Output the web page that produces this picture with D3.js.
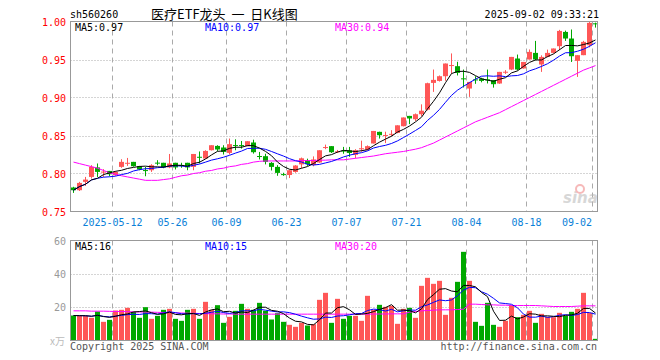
<!DOCTYPE html>
<html><head><meta charset="utf-8">
<script src="https://cdn.jsdelivr.net/npm/d3@7/dist/d3.min.js"></script>
<style>body{margin:0;background:#fff}svg{display:block}</style>
</head><body><svg id="c" width="660" height="360"></svg>
<script>
const dates = ["04-28","04-29","04-30","05-06","05-07","05-08","05-09","05-12","05-13","05-14","05-15","05-16","05-19","05-20","05-21","05-22","05-23","05-26","05-27","05-28","05-29","05-30","06-03","06-04","06-05","06-06","06-09","06-10","06-11","06-12","06-13","06-16","06-17","06-18","06-19","06-20","06-23","06-24","06-25","06-26","06-27","06-30","07-01","07-02","07-03","07-04","07-07","07-08","07-09","07-10","07-11","07-14","07-15","07-16","07-17","07-18","07-21","07-22","07-23","07-24","07-25","07-28","07-29","07-30","07-31","08-01","08-04","08-05","08-06","08-07","08-08","08-11","08-12","08-13","08-14","08-15","08-18","08-19","08-20","08-21","08-22","08-25","08-26","08-27","08-28","08-29","09-01","09-02"];
const openP = [0.7816,0.778,0.789,0.7955,0.808,0.802,0.8034,0.7978,0.8087,0.8135,0.8153,0.8096,0.8045,0.8043,0.8143,0.8141,0.808,0.8141,0.8112,0.8141,0.8087,0.822,0.8197,0.8306,0.8363,0.8342,0.8271,0.8374,0.8374,0.8359,0.8408,0.823,0.8228,0.814,0.8087,0.7992,0.798,0.802,0.812,0.8175,0.8112,0.8145,0.8342,0.836,0.8288,0.8302,0.8305,0.8245,0.8328,0.8313,0.8395,0.8548,0.8502,0.8518,0.8534,0.8622,0.8758,0.8714,0.878,0.884,0.9192,0.9218,0.928,0.9423,0.9412,0.9252,0.9118,0.9238,0.925,0.9239,0.9228,0.9184,0.9335,0.9368,0.9513,0.9382,0.95,0.9587,0.9434,0.9534,0.9587,0.9675,0.9863,0.9776,0.9482,0.9557,0.9688,0.9976];
const highP = [0.7825,0.789,0.7955,0.811,0.8132,0.8057,0.8034,0.803,0.8188,0.8205,0.8153,0.81,0.8087,0.8122,0.8175,0.8141,0.8257,0.8141,0.8141,0.8141,0.8257,0.829,0.8306,0.8372,0.8372,0.8372,0.846,0.845,0.8428,0.8425,0.8445,0.8284,0.826,0.815,0.811,0.801,0.805,0.811,0.821,0.8195,0.8225,0.8306,0.838,0.836,0.831,0.835,0.835,0.832,0.8432,0.837,0.856,0.855,0.855,0.857,0.8634,0.8737,0.8758,0.879,0.891,0.9195,0.9368,0.929,0.9447,0.958,0.947,0.9368,0.9205,0.928,0.926,0.9368,0.9228,0.9337,0.936,0.9534,0.9565,0.9468,0.9632,0.9745,0.9555,0.963,0.9645,0.989,0.988,0.9895,0.9557,0.9745,0.9995,0.9985];
const lowP = [0.7745,0.777,0.7837,0.7934,0.7955,0.7955,0.7964,0.797,0.8075,0.81,0.809,0.8043,0.7964,0.8021,0.8108,0.807,0.807,0.8053,0.8075,0.8043,0.8043,0.8132,0.8193,0.8303,0.8293,0.825,0.825,0.8306,0.8328,0.8359,0.8262,0.8185,0.812,0.804,0.797,0.797,0.794,0.801,0.807,0.81,0.8095,0.814,0.832,0.827,0.827,0.826,0.822,0.82,0.8287,0.8305,0.8395,0.846,0.84,0.849,0.853,0.862,0.865,0.869,0.8756,0.883,0.9074,0.921,0.922,0.9316,0.929,0.9132,0.9008,0.918,0.92,0.9185,0.913,0.918,0.931,0.936,0.9355,0.938,0.95,0.949,0.9337,0.953,0.958,0.9625,0.9745,0.9468,0.9271,0.9557,0.966,0.992];
const closeP = [0.778,0.7876,0.792,0.8087,0.8021,0.8025,0.799,0.8021,0.8153,0.8141,0.8096,0.8053,0.8041,0.8109,0.8139,0.808,0.8132,0.808,0.8108,0.808,0.8257,0.8216,0.8297,0.8372,0.8316,0.8284,0.8386,0.837,0.837,0.8425,0.828,0.8226,0.8153,0.8087,0.8008,0.7988,0.8043,0.8105,0.82,0.8122,0.8185,0.8306,0.8348,0.828,0.8292,0.8298,0.827,0.8306,0.8332,0.836,0.856,0.8504,0.8506,0.8522,0.8634,0.8737,0.8724,0.878,0.8826,0.9188,0.9232,0.928,0.9447,0.9427,0.9324,0.9248,0.9205,0.9235,0.9218,0.9235,0.9175,0.9337,0.9339,0.9534,0.9368,0.9468,0.96,0.95,0.9534,0.9587,0.9645,0.9876,0.9776,0.9543,0.9557,0.9732,0.9982,0.9972];
const volume = [15,14.8,14.8,13.6,17.4,11.2,12.4,18,18.4,19.6,17.2,13.6,20,13,14.8,18.4,19,13,11.8,18.4,19,13,23.2,18.4,21.2,10.6,14.2,17.8,22,19,18.4,22.6,17.8,12.6,16.4,11.2,9.4,8.2,10.6,9,9.8,24.4,28.6,10.6,25,13,14.8,14.8,11.8,26.8,18.4,21.4,20.2,20.8,10,19,19.6,13.6,32.8,37.6,34,35.8,15.4,25.6,35.2,53.2,35.8,11.2,8.8,22.6,9.4,8.2,11.8,21.2,14,15.4,17.8,10.6,16,14.2,14,16.6,14.8,17.2,19,28.6,16.6,1];
const ma30Price = [0.815,0.813,0.811,0.809,0.807,0.804,0.801,0.799,0.797,0.7955,0.794,0.7925,0.791,0.791,0.791,0.792,0.793,0.795,0.797,0.798,0.8,0.801,0.803,0.804,0.806,0.807,0.809,0.81,0.812,0.813,0.815,0.816,0.8165,0.8165,0.8165,0.8165,0.8165,0.8165,0.817,0.817,0.817,0.8175,0.8175,0.818,0.818,0.818,0.819,0.82,0.821,0.822,0.823,0.8245,0.826,0.827,0.828,0.829,0.8305,0.832,0.834,0.837,0.84,0.844,0.848,0.852,0.856,0.86,0.864,0.868,0.871,0.874,0.877,0.88,0.884,0.888,0.892,0.896,0.9,0.904,0.908,0.912,0.916,0.92,0.924,0.928,0.932,0.936,0.939,0.942];
const ma30Vol = [17.8,17.8,17.8,17.6,17.6,17.6,17.5,17.4,17.4,17.3,17.2,17.1,17,17,16.9,16.8,16.8,16.6,16.5,16.4,16.3,16.2,16.1,16,16,15.9,15.9,15.8,15.8,15.8,15.8,15.8,15.8,15.8,15.8,15.8,15.8,15.8,15.8,15.8,15.8,15.8,15.8,15.8,15.8,15.8,15.8,15.8,15.8,15.8,15.9,15.9,15.9,16,16,16,17,17.4,17.8,18,18.2,18.4,18.4,18.4,18.6,18.8,21.8,21.8,21.6,21.4,21.4,21.2,21.2,21,21,21,21,21,20.8,20.6,20.4,20.4,20.4,20.4,20.6,20.8,20.8,20.8];
const priceTicks = [1.00,0.95,0.90,0.85,0.80,0.75];
const volTicks = [60,40,20];
const dateTicks = ["05-12","05-26","06-09","06-23","07-07","07-21","08-04","08-18","09-02"];
const dateTickLabels = ["2025-05-12","05-26","06-09","06-23","07-07","07-21","08-04","08-18","09-02"];
const priceLegend = ["MA5:0.97","MA10:0.97","MA30:0.94"];
const volLegend = ["MA5:16","MA10:15","MA30:20"];

const RED = "#ff5757", GREEN = "#00a800";
const svg = d3.select("#c");
const mono = "'DejaVu Sans Mono', monospace";
const N = dates.length;
const x = d3.scaleBand().domain(d3.range(N)).range([70, 598]).padding(0);
const y = d3.scaleLinear().domain([0.75, 1.0]).range([211.5, 21.5]);
const yv = d3.scaleLinear().domain([0, 60]).range([340.5, 240.5]);
const L = 70.5, R = 597.5;

function movingAvg(arr, n) {
  return arr.map((_, i) => d3.mean(arr.slice(Math.max(0, i - n + 1), i + 1)));
}
const ma5 = movingAvg(closeP, 5), ma10 = movingAvg(closeP, 10);
const vma5 = movingAvg(volume, 5), vma10 = movingAvg(volume, 10);

// header
svg.append("text").attr("x", 70).attr("y", 18).attr("font-family", mono).attr("font-size", 10).attr("fill", "#000").text("sh560260");
svg.append("text").attr("x", 151).attr("y", 19).attr("font-family", "'Noto Sans CJK SC', sans-serif").attr("font-size", 13).attr("fill", "#000").attr("xml:space", "preserve").style("white-space", "pre").text("医疗ETF龙头  一  日K线图");
svg.append("text").attr("x", 599).attr("y", 18).attr("text-anchor", "end").attr("font-family", mono).attr("font-size", 10).attr("fill", "#000").text("2025-09-02 09:33:21");

// grids main
const gMain = svg.append("g");
priceTicks.filter(t => t > 0.76 && t < 0.99).forEach(t => {
  gMain.append("line").attr("x1", L).attr("x2", R).attr("y1", Math.round(y(t)) + 0.5).attr("y2", Math.round(y(t)) + 0.5)
    .attr("stroke", "#aaa").attr("stroke-dasharray", "1,2");
});
const dateIdx = dateTicks.map(d => dates.indexOf(d));
dateIdx.forEach(i => {
  const xx = Math.round(x(i)) + 0.5;
  gMain.append("line").attr("x1", xx).attr("x2", xx).attr("y1", 21.5).attr("y2", 211.5).attr("stroke", "#aaa").attr("stroke-dasharray", "5,4");
  gMain.append("line").attr("x1", xx).attr("x2", xx).attr("y1", 240.5).attr("y2", 340.5).attr("stroke", "#aaa").attr("stroke-dasharray", "5,4");
});
volTicks.filter(t => t < 60).forEach(t => {
  gMain.append("line").attr("x1", L).attr("x2", R).attr("y1", Math.round(yv(t)) + 0.5).attr("y2", Math.round(yv(t)) + 0.5)
    .attr("stroke", "#aaa").attr("stroke-dasharray", "1,2");
});

// watermark
const wm = svg.append("g").attr("opacity", 0.55);
wm.append("text").attr("x", 563).attr("y", 203).attr("font-family", "'DejaVu Sans', sans-serif").attr("font-style", "italic").attr("font-weight", "bold").attr("font-size", 15).attr("fill", "#b8b8b8").text("sina");
wm.append("circle").attr("cx", 580).attr("cy", 189).attr("r", 4).attr("fill", "none").attr("stroke", "#f08080").attr("stroke-width", 2);

// price labels
priceTicks.forEach(t => {
  svg.append("text").attr("x", 66).attr("y", y(t) + 4).attr("text-anchor", "end").attr("font-family", mono).attr("font-size", 10).attr("fill", "#f00").text(t.toFixed(2));
});
// date labels
dateIdx.forEach((i, k) => {
  const xx = Math.round(x(i)) + 0.5;
  const last = k === dateIdx.length - 1;
  svg.append("text").attr("x", last ? 592 : xx).attr("y", 226).attr("text-anchor", last ? "end" : "middle")
    .attr("font-family", mono).attr("font-size", 10).attr("fill", "#0a7fd8").text(dateTickLabels[k]);
});
// vol labels
volTicks.forEach(t => {
  svg.append("text").attr("x", 66).attr("y", yv(t) + 4).attr("text-anchor", "end").attr("font-family", mono).attr("font-size", 10).attr("fill", "#999").text(t);
});
svg.append("text").attr("x", 65).attr("y", 345).attr("text-anchor", "end").attr("font-family", "'Noto Sans CJK SC', sans-serif").attr("font-size", 10).attr("fill", "#bbb").text("x万");

// candles
const gC = svg.append("g");
d3.range(N).forEach(i => {
  const up = closeP[i] >= openP[i];
  const col = up ? RED : GREEN;
  const x0 = Math.round(x(i));
  gC.append("rect").attr("x", x0 + 3).attr("width", 1).attr("y", y(highP[i])).attr("height", Math.max(1, y(lowP[i]) - y(highP[i]))).attr("fill", col);
  const top = y(Math.max(openP[i], closeP[i])), bot = y(Math.min(openP[i], closeP[i]));
  gC.append("rect").attr("x", x0 + 1).attr("width", 5).attr("y", top).attr("height", Math.max(1, bot - top)).attr("fill", col);
  gC.append("rect").attr("x", x0 + 1).attr("width", 5).attr("y", yv(volume[i])).attr("height", yv(0) - yv(volume[i])).attr("fill", col);
});

// MA lines
const lineP = d3.line().x((d, i) => x(i) + 3.5).y(d => y(d));
const lineV = d3.line().x((d, i) => x(i) + 3.5).y(d => yv(d));
[[ma30Price, "#f0f"], [ma10, "#00f"], [ma5, "#000"]].forEach(([arr, c]) => {
  svg.append("path").attr("d", lineP(arr)).attr("fill", "none").attr("stroke", c).attr("stroke-width", 1);
});
[[ma30Vol, "#f0f"], [vma10, "#00f"], [vma5, "#000"]].forEach(([arr, c]) => {
  svg.append("path").attr("d", lineV(arr)).attr("fill", "none").attr("stroke", c).attr("stroke-width", 1);
});

// borders
svg.append("rect").attr("x", L).attr("y", 21.5).attr("width", R - L).attr("height", 190).attr("fill", "none").attr("stroke", "#999");
svg.append("rect").attr("x", L).attr("y", 240.5).attr("width", R - L).attr("height", 100).attr("fill", "none").attr("stroke", "#999");

// legends
const legCol = ["#000", "#00f", "#f0f"], legX = [75, 205, 335];
priceLegend.forEach((t, k) => svg.append("text").attr("x", legX[k]).attr("y", 31).attr("font-family", mono).attr("font-size", 10).attr("fill", legCol[k]).text(t));
volLegend.forEach((t, k) => svg.append("text").attr("x", legX[k]).attr("y", 250).attr("font-family", mono).attr("font-size", 10).attr("fill", legCol[k]).text(t));

// footer
svg.append("text").attr("x", 70).attr("y", 350).attr("font-family", mono).attr("font-size", 10).attr("fill", "#555").text("Copyright 2025 SINA.COM");
svg.append("text").attr("x", 597).attr("y", 350).attr("text-anchor", "end").attr("font-family", mono).attr("font-size", 10).attr("fill", "#555").text("http://finance.sina.com.cn");
</script></body></html>
